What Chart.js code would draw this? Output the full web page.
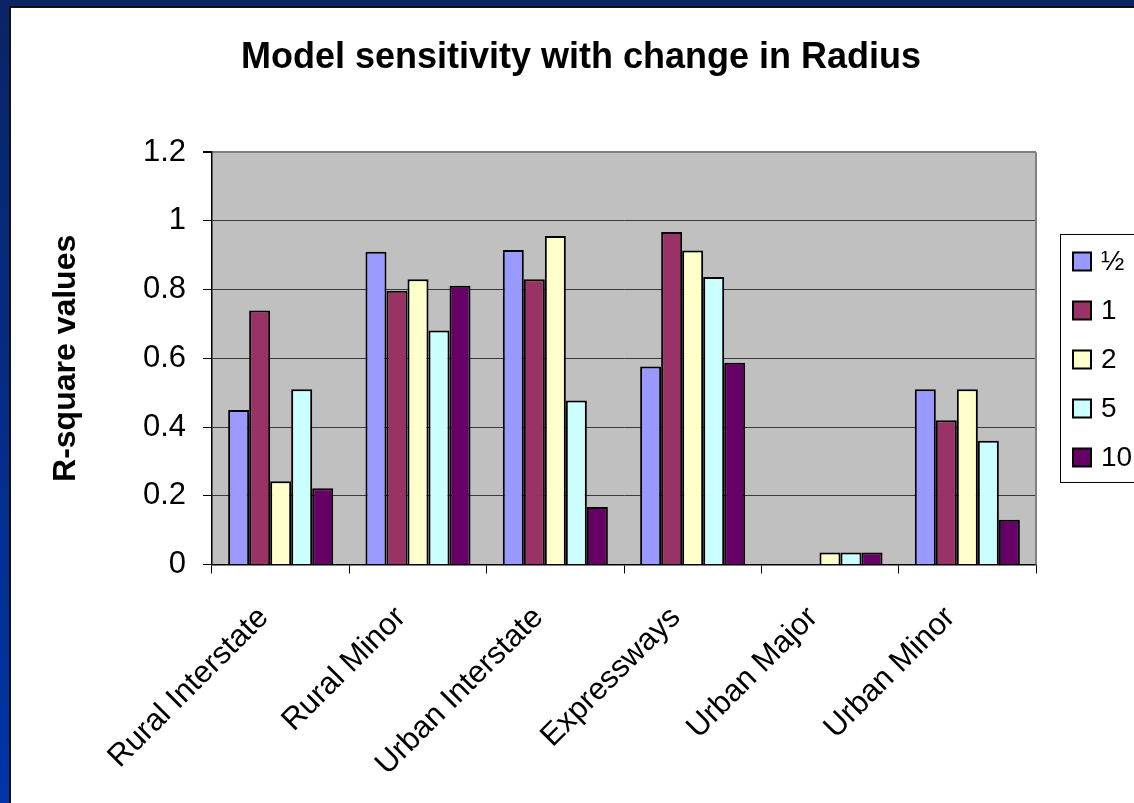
<!DOCTYPE html>
<html>
<head>
<meta charset="utf-8">
<script src="https://cdn.jsdelivr.net/npm/chart.js@4.4.0/dist/chart.umd.min.js"></script>
<style>
  html, body { margin: 0; padding: 0; width: 1134px; height: 803px; overflow: hidden; }
  body { background: linear-gradient(to bottom, #0a2466, #0034a8); }
  #panel { position: absolute; left: 9px; top: 6px; width: 1160px; height: 810px; background: #fff; border-left: 2px solid #111; border-top: 2px solid #111; }
  #chart { position: absolute; left: 0; top: 0; }
</style>
</head>
<body>
<div id="panel"><canvas id="chart" width="1140" height="795"></canvas></div>
<script>
// road classes on the x axis
const categories = ['Rural Interstate', 'Rural Minor', 'Urban Interstate', 'Expressways', 'Urban Major', 'Urban Minor'];

// R-square per radius
const radiusLabels = ['\u00BD', '1', '2', '5', '10'];
const radiusHalf = [0.45, 0.91, 0.915, 0.576, 0, 0.51];
const radius1 = [0.739, 0.797, 0.83, 0.968, 0, 0.42];
const radius2 = [0.242, 0.83, 0.956, 0.914, 0.035, 0.51];
const radius5 = [0.51, 0.681, 0.477, 0.837, 0.035, 0.36];
const radius10 = [0.222, 0.811, 0.167, 0.587, 0.035, 0.13];

const yTickLabels = ['0', '0.2', '0.4', '0.6', '0.8', '1', '1.2'];

const seriesColors = ['#9999FF', '#993366', '#FFFFCC', '#CCFFFF', '#660066'];
const FONT = "'Liberation Sans', Arial, sans-serif";

// grey plot area + right border like the Excel original
const plotBackground = {
    id: 'plotBackground',
    beforeDraw(chart) {
        const { ctx, chartArea: a } = chart;
        ctx.save();
        ctx.fillStyle = '#C0C0C0';
        ctx.fillRect(a.left, a.top, a.right - a.left, a.bottom - a.top);
        ctx.restore();
    },
    afterDraw(chart) {
        const { ctx, chartArea: a } = chart;
        ctx.save();
        ctx.strokeStyle = '#808080';
        ctx.lineWidth = 2;
        ctx.beginPath();
        ctx.moveTo(a.right, a.top);
        ctx.lineTo(a.right, a.bottom);
        ctx.stroke();
        ctx.restore();
    }
};

// boxed legend on the right, partly cut off by the frame
const boxLegend = {
    id: 'boxLegend',
    afterDraw(chart) {
        const ctx = chart.ctx;
        const left = 1049, top = 226, bottom = 474;
        ctx.save();
        ctx.fillStyle = '#fff';
        ctx.fillRect(left, top, 200, bottom - top);
        ctx.strokeStyle = '#000';
        ctx.lineWidth = 1;
        ctx.strokeRect(left + 0.5, top + 0.5, 200, bottom - top);
        ctx.font = '28px ' + FONT;
        ctx.textBaseline = 'middle';
        chart.data.datasets.forEach(function (ds, i) {
            const cy = 253.5 + i * 49;
            ctx.fillStyle = ds.backgroundColor;
            ctx.fillRect(1062, cy - 9, 18, 18);
            ctx.lineWidth = 2;
            ctx.strokeStyle = '#000';
            ctx.strokeRect(1062, cy - 9, 18, 18);
            ctx.fillStyle = '#000';
            ctx.fillText(ds.label, 1090, cy + 1);
        });
        ctx.restore();
    }
};

const seriesData = [radiusHalf, radius1, radius2, radius5, radius10];

const ctx = document.getElementById('chart').getContext('2d');
const chart = new Chart(ctx, {
    type: 'bar',
    data: {
        labels: categories,
        datasets: seriesData.map(function (values, i) {
            return {
                label: radiusLabels[i],
                data: values,
                backgroundColor: seriesColors[i],
                borderColor: '#000',
                borderWidth: 2,
                categoryPercentage: 0.765,
                barPercentage: 1
            };
        })
    },
    options: {
        responsive: false,
        animation: false,
        devicePixelRatio: 1,
        layout: { padding: 0 },
        plugins: {
            legend: { display: false },
            tooltip: { enabled: false },
            title: {
                display: true,
                text: 'Model sensitivity with change in Radius',
                color: '#000',
                font: { family: FONT, size: 36, weight: 'bold' },
                padding: { top: 28, bottom: 73 }
            }
        },
        scales: {
            x: {
                afterFit: function (scale) { scale.height = 238.5; },
                grid: { display: true, drawOnChartArea: false, offset: true, color: '#000', tickLength: 9 },
                border: { display: true, color: '#000', width: 1.5 },
                ticks: {
                    minRotation: 45,
                    maxRotation: 45,
                    color: '#000',
                    padding: 26,
                    labelOffset: -17,
                    font: { family: FONT, size: 31 }
                }
            },
            y: {
                min: 0,
                max: 1.2,
                afterFit: function (scale) { scale.width = 201; },
                grid: {
                    color: function (c) { return c.tick && c.tick.value > 1.19 ? '#808080' : '#3a3a3a'; },
                    lineWidth: function (c) { return c.tick && c.tick.value > 1.19 ? 2 : 1; },
                    tickColor: '#000',
                    tickLength: 9
                },
                border: { display: true, color: '#000', width: 1.5 },
                ticks: {
                    stepSize: 0.2,
                    color: '#000',
                    padding: 17,
                    font: { family: FONT, size: 31 },
                    callback: function (v, i) { return yTickLabels[i]; }
                },
                title: {
                    display: true,
                    text: 'R-square values',
                    color: '#000',
                    font: { family: FONT, size: 32, weight: 'bold' },
                    padding: { top: 36, bottom: 0 }
                }
            },
            // empty right-hand axis that only reserves the legend's space
            legendSpace: {
                position: 'right',
                afterFit: function (scale) { scale.width = 115; },
                grid: { display: false },
                border: { display: false },
                ticks: { display: false }
            }
        }
    },
    plugins: [plotBackground, boxLegend]
});
</script>
</body>
</html>
